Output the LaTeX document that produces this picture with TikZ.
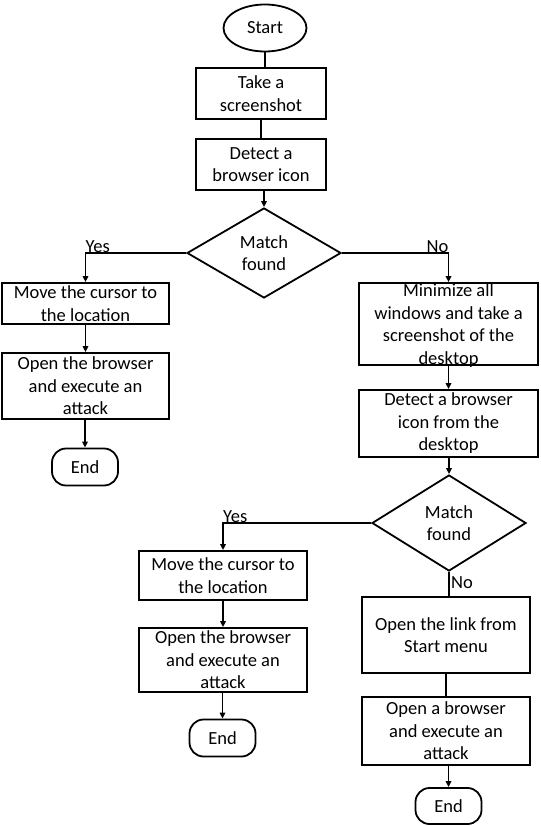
\documentclass[tikz,border=0pt]{standalone}
\usepackage{fontspec}
\setmainfont{Carlito}
\usetikzlibrary{shapes.geometric,arrows.meta}

\tikzset{
  box/.style={draw, rectangle, line width=1.8pt, align=center, inner sep=0pt,
    font=\fontsize{18.5}{22.5}\selectfont},
  decision/.style={draw, diamond, aspect=1.7, line width=1.8pt, align=center,
    inner sep=0pt, font=\fontsize{18.5}{22.5}\selectfont},
  term/.style={draw, rectangle, rounded corners=14pt, line width=1.8pt,
    minimum width=66pt, minimum height=37pt, font=\fontsize{18.5}{22.5}\selectfont},
  flow/.style={line width=1.8pt},
  flowarrow/.style={line width=1.8pt, -{Triangle[length=6pt,width=5.5pt]}},
  tag/.style={inner sep=0pt, font=\fontsize{18.5}{22.5}\selectfont}
}

\begin{document}
\begin{tikzpicture}[x=1pt,y=-1pt]

  \useasboundingbox (0,0) rectangle (540,826);

  % Main column
  \node[draw, ellipse, line width=1.8pt, minimum width=83pt, minimum height=47pt,
    inner sep=0pt, font=\fontsize{18.5}{22.5}\selectfont] (start) at (265,28) {Start};
  \node[box, minimum width=130pt, minimum height=51pt] (shot) at (261,93.5) {Take a\\screenshot};
  \node[box, minimum width=130pt, minimum height=51pt] (detect) at (261,164.5) {Detect a\\browser icon};
  \node[decision, minimum width=154pt, minimum height=90pt] (match) at (264,253) {Match\\found};

  % Left branch (match found)
  \node[box, minimum width=167pt, minimum height=41pt] (cursor) at (85.5,303.5) {Move the cursor to\\the location};
  \node[box, minimum width=167pt, minimum height=66pt] (attack) at (85.5,386) {Open the browser\\and execute an\\attack};
  \node[term] (endA) at (85,467) {End};

  % Right branch (no match)
  \node[box, minimum width=179pt, minimum height=82pt, text depth=0pt] (minimize) at (448.5,324)
    {Minimize all\\windows and take a\\screenshot of the\\desktop};
  \node[box, minimum width=179pt, minimum height=67pt] (desk) at (448.5,423.5)
    {Detect a browser\\icon from the\\desktop};
  \node[decision, minimum width=154pt, minimum height=96pt] (match2) at (449,523) {Match\\found};

  % Second level, match found
  \node[box, minimum width=168pt, minimum height=49pt] (cursor2) at (223,575.5) {Move the cursor to\\the location};
  \node[box, minimum width=168pt, minimum height=64pt] (attack2) at (223,660) {Open the browser\\and execute an\\attack};
  \node[term] (endB) at (222.5,738) {End};

  % Second level, no match
  \node[box, minimum width=168pt, minimum height=76pt] (link) at (446,635) {Open the link from\\Start menu};
  \node[box, minimum width=168pt, minimum height=68pt] (attack3) at (446,731) {Open a browser\\and execute an\\attack};
  \node[term, minimum height=36pt] (endC) at (448.5,806) {End};

  % Connectors
  \draw[flow] (start) -- (start |- shot.north);
  \draw[flow] (shot.south -| detect) -- (detect);
  \draw[flowarrow] (detect.south -| match) -- (match.north);

  \draw[flowarrow] (match.west) -| (cursor.north);
  \draw[flowarrow] (match.east) -| (minimize.north);
  \node[tag, anchor=south west] (yesA) at (match.west -| cursor) {Yes};
  \node[tag, anchor=south east] (noA) at (match.east -| minimize) {No};

  \draw[flowarrow] (cursor) -- (attack);
  \draw[flowarrow] (attack.south -| endA) -- (endA);
  \draw[flowarrow] (minimize) -- (desk);
  \draw[flowarrow] (desk.south -| match2) -- (match2.north);

  \draw[flowarrow] (match2.west) -| (cursor2.north);
  \node[tag, anchor=south west] (yesB) at (match2.west -| cursor2) {Yes};
  \draw[flow] (match2.south) -- (match2.south |- link.north);
  \node[tag, anchor=west] (noB) at ([xshift=2pt,yshift=-11pt]match2.south) {No};

  \draw[flowarrow] (cursor2) -- (attack2);
  \draw[flowarrow] (attack2.south -| endB) -- (endB);
  \draw[flow] (link) -- (attack3);
  \draw[flowarrow] (attack3.south -| endC) -- (endC);

\end{tikzpicture}
\end{document}
